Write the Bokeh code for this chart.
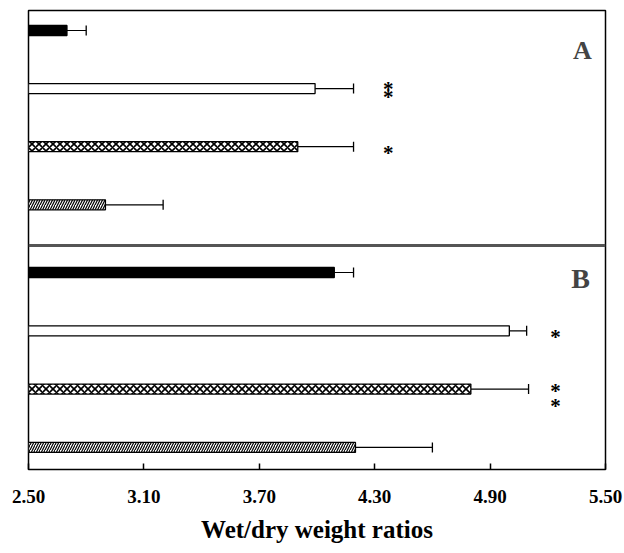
from bokeh.plotting import figure
from bokeh.models import Range1d, FixedTicker, Span, Whisker, TeeHead, ColumnDataSource, Label
from bokeh.core.properties import value
from bokeh.embed import file_html
from bokeh.resources import INLINE

# ---------------- data ----------------
panels = ["A", "B"]
# bar order top-to-bottom within each panel: solid, open, cross-hatched, diagonal-hatched
A_means = [2.70, 3.99, 3.90, 2.90]
A_sd = [0.10, 0.20, 0.29, 0.30]
A_stars = ["", "**", "*", ""]
B_means = [4.09, 5.00, 4.80, 4.20]
B_sd = [0.10, 0.09, 0.30, 0.40]
B_stars = ["", "*", "**", ""]
tick_values = [2.50, 3.10, 3.70, 4.30, 4.90, 5.50]
tick_labels = ["2.50", "3.10", "3.70", "4.30", "4.90", "5.50"]
x_label = "Wet/dry weight ratios"

# ---------------- layout helpers ----------------
FONT = "Liberation Serif"
styles = [
    dict(fill_color="black", hatch_pattern=None),
    dict(fill_color="white", hatch_pattern=None),
    dict(fill_color="white", hatch_pattern="x", hatch_scale=7, hatch_weight=1.6),
    dict(fill_color="white", hatch_pattern="/", hatch_scale=5, hatch_weight=1.2),
]
frame_h = 459
panel_first = {"A": 20.0, "B": 262.0}
slot = {"A": 58.1, "B": 58.3}
divider = 235
bar_h = 10
star_gap = {"A": 8, "B": 15}
star_x = {"A": 4.37, "B": 5.24}
star_dy0 = {"A": -6, "B": -4}
label_pos = {"A": (5.38, 40), "B": (5.37, 268)}
label_size = {"A": "26px", "B": "28px"}

p = figure(width=624, height=553, output_backend="svg", toolbar_location=None,
           x_range=Range1d(2.5, 5.5), y_range=Range1d(frame_h, 0),
           min_border_left=28, min_border_right=19, min_border_top=10, min_border_bottom=84)
p.yaxis.visible = False
p.xgrid.visible = False
p.ygrid.visible = False
p.outline_line_color = "black"
p.outline_line_width = 1.5
p.background_fill_color = "white"
p.border_fill_color = "white"

data = {"A": (A_means, A_sd, A_stars), "B": (B_means, B_sd, B_stars)}
for pn in panels:
    means, sds, stars = data[pn]
    ys = [panel_first[pn] + i * slot[pn] for i in range(len(means))]
    for i, (m, s, y) in enumerate(zip(means, sds, ys)):
        st = styles[i]
        kw = dict(y=[y], height=bar_h, left=2.5, right=[m], line_color="black", line_width=1.3,
                  fill_color=st["fill_color"])
        if st["hatch_pattern"]:
            kw.update(hatch_pattern=st["hatch_pattern"], hatch_scale=st["hatch_scale"],
                      hatch_weight=st["hatch_weight"], hatch_color="black")
        p.hbar(**kw)
    src = ColumnDataSource(dict(y=ys, lo=means, hi=[m + s for m, s in zip(means, sds)]))
    p.add_layout(Whisker(source=src, base="y", lower="lo", upper="hi", dimension="width",
                         line_color="black", line_width=1.2, lower_head=None,
                         upper_head=TeeHead(size=10, line_color="black", line_width=1.3)))
    sx, sy = [], []
    for y, st in zip(ys, stars):
        n = len(st)
        for k in range(n):
            sx.append(star_x[pn])
            sy.append(y + (star_dy0[pn] if n > 1 else 0) + k * star_gap[pn])
    p.text(x=sx, y=sy, text=["*"] * len(sx), text_font=value(FONT), text_font_style="bold",
           text_font_size="21px", text_align="center", text_baseline="top", y_offset=-6)
    lx, ly = label_pos[pn]
    p.add_layout(Label(x=lx, y=ly, text=pn, text_font=FONT, text_font_style="bold",
                       text_font_size=label_size[pn], text_align="center", text_baseline="middle"))

p.add_layout(Span(location=divider, dimension="width", line_color="#555555", line_width=3))

ax = p.xaxis[0]
ax.ticker = FixedTicker(ticks=tick_values)
ax.major_label_overrides = {v: l for v, l in zip(tick_values, tick_labels)}
ax.axis_line_color = None
ax.major_tick_in = 6
ax.major_tick_out = 0
ax.major_tick_line_width = 1.5
ax.minor_tick_line_color = None
ax.major_label_standoff = 20
ax.major_label_text_font = FONT
ax.major_label_text_font_style = "bold"
ax.major_label_text_font_size = "19px"
ax.major_label_text_color = "black"
ax.axis_label = x_label
ax.axis_label_text_font = FONT
ax.axis_label_text_font_style = "bold"
ax.axis_label_text_font_size = "25px"
ax.axis_label_text_color = "black"
ax.axis_label_standoff = 10

open("out.html", "w").write(file_html(p, INLINE))
